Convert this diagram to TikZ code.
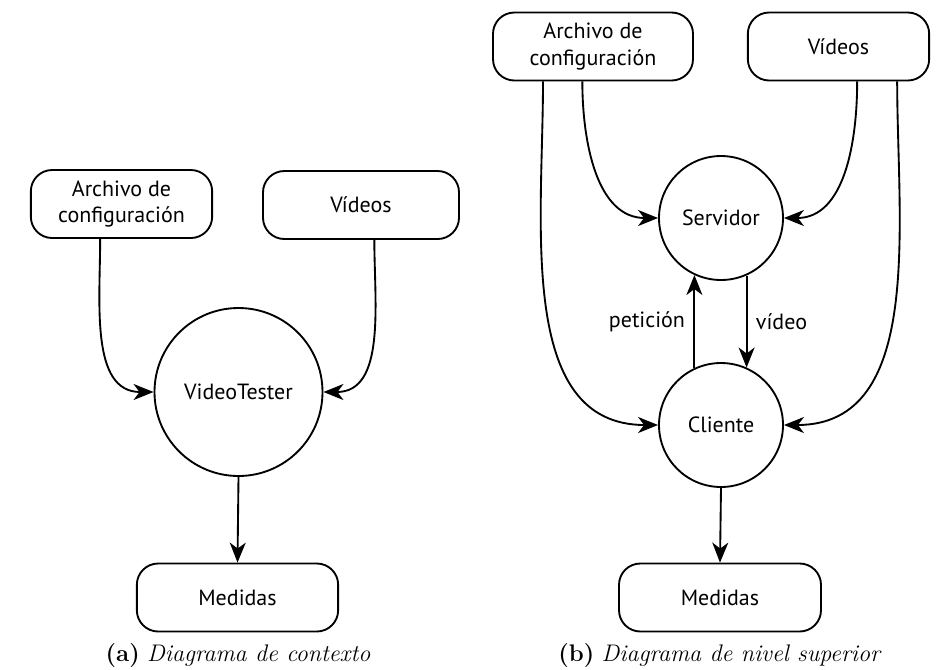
\documentclass[tikz,border=0pt]{standalone}
\usepackage{fontspec}
\usepackage{tikz}
\usetikzlibrary{arrows.meta}
\newfontfamily\diagfont{PT Sans}

\begin{document}
\begin{tikzpicture}[x=0.75pt,y=0.75pt,yscale=-1,xscale=1,
  caja/.style={draw, line width=1.4pt, rounded corners=16pt, minimum height=51pt, align=center, font=\diagfont\fontsize{16.5}{20}\selectfont},
  proceso/.style={draw, circle, line width=1.4pt, inner sep=0pt, font=\diagfont\fontsize{16.5}{20}\selectfont},
  flujo/.style={line width=1.4pt, -{Stealth[length=15pt,width=12pt,inset=4.5pt]}},
  etiq/.style={font=\diagfont\fontsize{16.5}{20}\selectfont},
  pie/.style={font=\fontsize{18}{22}\selectfont}]
\useasboundingbox (0,0) rectangle (936,669);

% (a) diagrama de contexto
\node[caja, minimum width=136pt] (archA) at (121.5,204) {Archivo de\\configuración};
\node[caja, minimum width=147pt] (vidA) at (361,205) {Vídeos};
\node[proceso, minimum size=126pt] (vt) at (238.5,392) {VideoTester};
\node[caja, minimum width=151pt] (medA) at (237.5,597.5) {Medidas};

\draw[flujo] ([xshift=-16pt]archA.south) to[out=90,in=180] (vt.west);
\draw[flujo] ([xshift=10pt]vidA.south) to[out=90,in=0] (vt.east);
\draw[flujo] (vt.south) -- (medA.north);

\node[pie] (capA) at (238,655) {\textbf{(a)} \textit{Diagrama de contexto}};

% (b) diagrama de nivel superior
\node[caja, minimum width=150pt] (archB) at (593,46.5) {Archivo de\\configuración};
\node[caja, minimum width=136pt] (vidB) at (838.5,46.5) {Vídeos};
\node[proceso, minimum size=93pt] (serv) at (721,218) {Servidor};
\node[proceso, minimum size=93pt] (cli) at (721,425) {Cliente};
\node[caja, minimum width=151.5pt] (medB) at (720,597.5) {Medidas};

\draw[flujo] ([xshift=-37.5pt]archB.south) to[out=90,in=180] (cli.west);
\draw[flujo] ([xshift=-8pt]archB.south) to[out=90,in=180] (serv.west);
\draw[flujo] ([xshift=14pt]vidB.south) to[out=90,in=0] (serv.east);
\draw[flujo] ([xshift=44pt]vidB.south) to[out=90,in=0] (cli.east);

\draw[flujo] (cli.115) -- node[etiq, left=3pt] (pet) {petición} (serv.245);
\draw[flujo] (serv.294) -- node[etiq, right=3pt] (vid) {vídeo} (cli.66);
\draw[flujo] (cli.south) -- (medB.north);

\node[pie] (capB) at (720,655) {\textbf{(b)} \textit{Diagrama de nivel superior}};

\end{tikzpicture}
\end{document}
